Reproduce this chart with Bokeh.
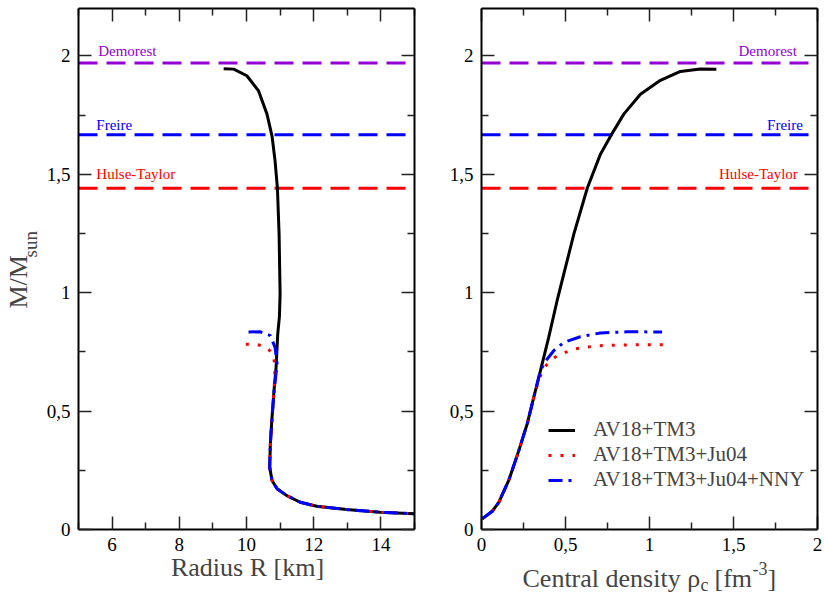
from bokeh.plotting import figure
from bokeh.layouts import row
from bokeh.models import (LinearAxis, FixedTicker, Range1d, Label, Legend, LegendItem,
                          CustomJSTickFormatter)
from bokeh.embed import file_html
from bokeh.resources import INLINE
import math

FONT = "Liberation Serif"

# ---- data: mass-radius (left panel) ----
R_av18 = [9.32, 9.62, 10.01, 10.36, 10.61, 10.76, 10.85, 10.92, 10.97, 11.0, 10.98,
          10.93, 10.88, 10.82, 10.76, 10.71, 10.69, 10.76, 10.91, 11.2, 11.6, 12.09,
          12.98, 13.97, 15.0]
M_av18_R = [1.946, 1.944, 1.916, 1.852, 1.754, 1.661, 1.557, 1.442, 1.248, 0.994, 0.90,
            0.826, 0.685, 0.587, 0.474, 0.362, 0.263, 0.207, 0.172, 0.143, 0.115, 0.098,
            0.084, 0.073, 0.066]

R_ju04 = [9.98, 10.28, 10.59, 10.80, 10.85, 10.82, 10.76, 10.71, 10.69, 10.76, 10.91,
          11.2, 11.6, 12.09, 12.98, 13.97, 15.0]
M_ju04_R = [0.782, 0.782, 0.771, 0.738, 0.685, 0.587, 0.474, 0.362, 0.263, 0.207, 0.172,
            0.143, 0.115, 0.098, 0.084, 0.073, 0.066]

R_nny = [10.06, 10.40, 10.71, 10.85, 10.91, 10.88, 10.82, 10.76, 10.71, 10.69, 10.76,
         10.91, 11.2, 11.6, 12.09, 12.98, 13.97, 15.0]
M_nny_R = [0.834, 0.835, 0.819, 0.769, 0.699, 0.66, 0.587, 0.474, 0.362, 0.263, 0.207,
           0.172, 0.143, 0.115, 0.098, 0.084, 0.073, 0.066]

# ---- data: mass-central density (right panel) ----
rho_av18 = [0.004, 0.064, 0.103, 0.162, 0.222, 0.272, 0.311, 0.351, 0.40, 0.45, 0.49,
            0.55, 0.63, 0.708, 0.768, 0.847, 0.946, 1.065, 1.184, 1.302, 1.398]
M_av18_rho = [0.045, 0.077, 0.115, 0.207, 0.333, 0.446, 0.558, 0.671, 0.811, 0.966, 1.079,
              1.248, 1.442, 1.585, 1.661, 1.754, 1.838, 1.897, 1.934, 1.945, 1.944]

rho_ju04 = [0.004, 0.064, 0.103, 0.162, 0.222, 0.272, 0.311, 0.345, 0.37, 0.40, 0.45,
            0.549, 0.688, 0.906, 1.098]
M_ju04_rho = [0.045, 0.077, 0.115, 0.207, 0.333, 0.446, 0.558, 0.64, 0.68, 0.706, 0.734,
              0.762, 0.776, 0.78, 0.78]

rho_nny = [0.004, 0.064, 0.103, 0.162, 0.222, 0.272, 0.311, 0.351, 0.38, 0.43, 0.49,
           0.589, 0.708, 0.866, 1.075]
M_nny_rho = [0.045, 0.077, 0.115, 0.207, 0.333, 0.446, 0.558, 0.671, 0.71, 0.755, 0.79,
             0.814, 0.83, 0.835, 0.834]

# ---- observational limits ----
obs_names = ["Demorest", "Freire", "Hulse-Taylor"]
obs_mass = [1.97, 1.667, 1.4414]
obs_colors = ["#9400d3", "#0000ff", "#ff0000"]

series_labels = ["AV18+TM3", "AV18+TM3+Ju04", "AV18+TM3+Ju04+NNY"]

y_ticks = [0, 0.5, 1, 1.5, 2]
y_minor = [0.25, 0.75, 1.25, 1.75]
y_labels = {0: "0", 0.5: "0,5", 1: "1", 1.5: "1,5", 2: "2"}
r_ticks = [6, 8, 10, 12, 14]
r_minor = [5, 7, 9, 11, 13, 15]
rho_ticks = [0, 0.5, 1, 1.5, 2]
rho_minor = [0.25, 0.75, 1.25, 1.75]
rho_labels = {0: "0", 0.5: "0,5", 1: "1", 1.5: "1,5", 2: "2"}

Y_LIM = (0, 2.2)
R_LIM = (5, 15)
RHO_LIM = (0, 2)

# pixel geometry of the plot boxes
BOX_W, BOX_H = 336, 521
TOP, BOTTOM = 8, 67
PX_Y = BOX_H / (Y_LIM[1] - Y_LIM[0])
BASE_SHIFT = 0.38  # anchor of label text sits this many em above the drawn baseline


def style_axis(ax, labels=True):
    ax.axis_line_width = 2
    ax.axis_line_color = "black"
    ax.major_tick_in = 13
    ax.major_tick_out = 0
    ax.minor_tick_in = 7
    ax.minor_tick_out = 0
    ax.major_tick_line_width = 1.5
    ax.minor_tick_line_width = 1.5
    ax.major_tick_line_color = "#222222"
    ax.minor_tick_line_color = "#222222"
    ax.major_label_text_font = FONT
    ax.major_label_text_font_size = "19px"
    ax.major_label_text_color = "black"
    ax.major_label_standoff = 8
    if not labels:
        ax.formatter = CustomJSTickFormatter(code="return ''")


def make_fig(width, left, right, xlim, xt, xm, xlabels):
    px_x = BOX_W / (xlim[1] - xlim[0])
    xr = Range1d(xlim[0] - left / px_x, xlim[1] + right / px_x)
    yr = Range1d(Y_LIM[0] - BOTTOM / PX_Y, Y_LIM[1] + TOP / PX_Y)
    p = figure(width=width, height=596, output_backend="svg", toolbar_location=None,
               x_range=xr, y_range=yr,
               min_border_left=0, min_border_right=0, min_border_top=0, min_border_bottom=0,
               x_axis_location=None, y_axis_location=None)
    p.grid.visible = False
    p.outline_line_color = None
    p.background_fill_color = "white"
    p.border_fill_color = "white"
    xtick = FixedTicker(ticks=xt, minor_ticks=xm)
    ytick = FixedTicker(ticks=y_ticks, minor_ticks=y_minor)
    bx = LinearAxis(ticker=xtick, major_label_overrides=xlabels,
                    fixed_location=Y_LIM[0], bounds=xlim)
    style_axis(bx)
    tx = LinearAxis(ticker=xtick, fixed_location=Y_LIM[1], bounds=xlim)
    style_axis(tx, labels=False)
    ly = LinearAxis(ticker=ytick, major_label_overrides=y_labels,
                    fixed_location=xlim[0], bounds=Y_LIM)
    style_axis(ly)
    ry = LinearAxis(ticker=ytick, fixed_location=xlim[1], bounds=Y_LIM)
    style_axis(ry, labels=False)
    p.add_layout(bx, "below")
    p.add_layout(tx, "above")
    p.add_layout(ly, "left")
    p.add_layout(ry, "right")
    return p, px_x


p1, PX_R = make_fig(440, 78, 26, R_LIM, r_ticks, r_minor, {})
p2, PX_RHO = make_fig(384, 41, 7, RHO_LIM, rho_ticks, rho_minor, rho_labels)

# reference lines
for p, xl in ((p1, R_LIM), (p2, RHO_LIM)):
    for m, c in zip(obs_mass, obs_colors):
        p.line(list(xl), [m, m], line_color=c, line_width=3, line_dash="19 9")

# observation labels (baseline a few pixels above each line)
lift_px = [6.5, 4.5, 8]
left_x = [5.585, 5.53, 5.53]
right_x = [1.877, 1.913, 1.883]
for name, m, c, lx, rx, lp in zip(obs_names, obs_mass, obs_colors, left_x, right_x, lift_px):
    yy = m + (lp + BASE_SHIFT * 15) / PX_Y
    p1.add_layout(Label(x=lx, y=yy, text=name, text_color=c, text_font=FONT,
                        text_font_size="15px", text_baseline="alphabetic", text_align="left"))
    p2.add_layout(Label(x=rx, y=yy, text=name, text_color=c, text_font=FONT,
                        text_font_size="15px", text_baseline="alphabetic", text_align="right"))

# curves
p1.line(R_av18, M_av18_R, line_color="black", line_width=3)
p1.line(R_ju04, M_ju04_R, line_color="#ff0000", line_width=3, line_dash="3 9")
p1.line(R_nny, M_nny_R, line_color="#0000ff", line_width=3, line_dash="14 6 3 6")

r1 = p2.line(rho_av18, M_av18_rho, line_color="black", line_width=3)
r2 = p2.line(rho_ju04, M_ju04_rho, line_color="#ff0000", line_width=3, line_dash="3 9")
r3 = p2.line(rho_nny, M_nny_rho, line_color="#0000ff", line_width=3, line_dash="14 6 3 6")

legend = Legend(items=[LegendItem(label=series_labels[0], renderers=[r1]),
                       LegendItem(label=series_labels[1], renderers=[r2]),
                       LegendItem(label=series_labels[2], renderers=[r3])],
                location=(108, 104), padding=0, margin=0, spacing=0,
                glyph_width=27, glyph_height=20, label_height=20, label_standoff=18,
                label_text_font=FONT, label_text_font_size="21px",
                label_text_line_height=1.0,
                border_line_color=None, background_fill_alpha=0)
p2.add_layout(legend, "center")


def below(px, size):
    # data y of a label anchor whose baseline should sit px pixels below the box
    return Y_LIM[0] - (px - BASE_SHIFT * size) / PX_Y


# axis titles, placed in data coordinates below / left of the plot boxes
p1.add_layout(Label(x=R_LIM[0] + (247 - 78) / PX_R, y=below(48, 26), text="Radius R [km]",
                    text_font=FONT, text_font_size="26px", text_align="center",
                    text_baseline="alphabetic"))
p1.add_layout(Label(x=R_LIM[0] - (50 + BASE_SHIFT * 26) / PX_R, y=221 / PX_Y, text="M/M",
                    angle=math.pi / 2, text_font=FONT, text_font_size="26px",
                    text_align="left", text_baseline="alphabetic"))
p1.add_layout(Label(x=R_LIM[0] - (41 + BASE_SHIFT * 19) / PX_R, y=272 / PX_Y, text="sun",
                    angle=math.pi / 2, text_font=FONT, text_font_size="19px",
                    text_align="left", text_baseline="alphabetic"))

p2.add_layout(Label(x=41 / PX_RHO, y=below(59, 26), text="Central density ρ",
                    text_font=FONT, text_font_size="26px", text_align="left",
                    text_baseline="alphabetic"))
p2.add_layout(Label(x=219 / PX_RHO, y=below(62, 18), text="c",
                    text_font=FONT, text_font_size="18px", text_align="left",
                    text_baseline="alphabetic"))
p2.add_layout(Label(x=233 / PX_RHO, y=below(59, 26), text="[fm",
                    text_font=FONT, text_font_size="26px", text_align="left",
                    text_baseline="alphabetic"))
p2.add_layout(Label(x=271 / PX_RHO, y=below(46, 18), text="-3",
                    text_font=FONT, text_font_size="18px", text_align="left",
                    text_baseline="alphabetic"))
p2.add_layout(Label(x=286 / PX_RHO, y=below(59, 26), text="]",
                    text_font=FONT, text_font_size="26px", text_align="left",
                    text_baseline="alphabetic"))

layout = row(p1, p2)
open("out.html", "w").write(file_html(layout, INLINE))
